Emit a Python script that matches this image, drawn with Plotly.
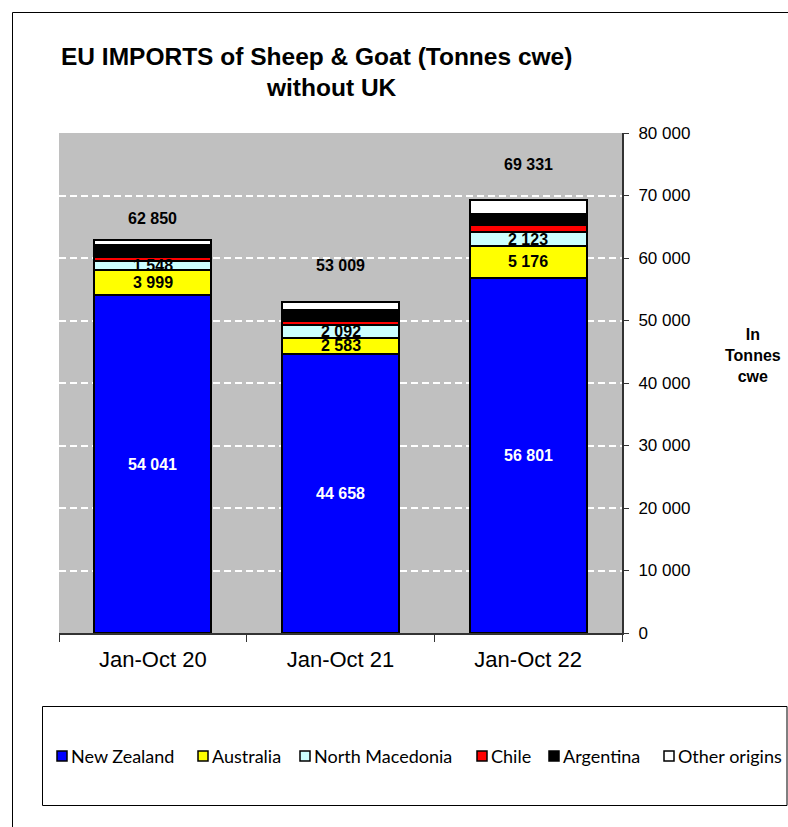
import plotly.graph_objects as go

periods = ["Jan-Oct 20", "Jan-Oct 21", "Jan-Oct 22"]
series_names = ["New Zealand", "Australia", "North Macedonia", "Chile", "Argentina", "Other origins"]
new_zealand = [54041, 44658, 56801]
australia = [3999, 2583, 5176]
north_macedonia = [1548, 2092, 2123]
chile = [600, 526, 1150]
argentina = [1900, 1800, 1830]
other_origins = [762, 1350, 2251]
totals = [62850, 53009, 69331]
total_label_offset = [3550, 5870, 5550]
labelled_series = {"New Zealand": "white", "Australia": "black", "North Macedonia": "black"}

colors = ["#0000FF", "#FFFF00", "#CCFFFF", "#FF0000", "#000000", "#FFFFFF"]
values = [new_zealand, australia, north_macedonia, chile, argentina, other_origins]

FW, FH = 788, 827


def fx(px):
    return px / FW


def fy(py):
    return 1 - py / FH


FONT = "Liberation Sans, Arial, sans-serif"
LEGEND_FONT = "Lato, Open Sans, sans-serif"


def fmt(v):
    return f"{v:,}".replace(",", " ")


fig = go.Figure()
for name, vals, col in zip(series_names, values, colors):
    fig.add_trace(go.Bar(
        x=periods, y=vals, name=name,
        marker=dict(color=col, line=dict(color="black", width=2)),
        hoverinfo="skip", showlegend=False,
    ))

annotations = []
cum = [0, 0, 0]
for name, vals in zip(series_names, values):
    for i, v in enumerate(vals):
        if name in labelled_series:
            annotations.append(dict(
                x=periods[i], y=cum[i] + v / 2, xref="x", yref="y",
                text=f"<b>{fmt(v)}</b>", showarrow=False,
                font=dict(family=FONT, size=16, color=labelled_series[name]),
            ))
        cum[i] += v

for i, t in enumerate(totals):
    annotations.append(dict(
        x=periods[i], y=t + total_label_offset[i], xref="x", yref="y",
        text=f"<b>{fmt(t)}</b>", showarrow=False,
        font=dict(family=FONT, size=16, color="black"),
    ))

# title (two lines)
annotations.append(dict(
    x=fx(316), y=fy(57), xref="paper", yref="paper", xanchor="center", yanchor="middle",
    text="<b>EU IMPORTS of Sheep & Goat (Tonnes cwe)</b>", showarrow=False,
    font=dict(family=FONT, size=24.5, color="black"),
))
annotations.append(dict(
    x=fx(331), y=fy(88), xref="paper", yref="paper", xanchor="center", yanchor="middle",
    text="<b>without UK</b>", showarrow=False,
    font=dict(family=FONT, size=24.5, color="black"),
))
annotations.append(dict(
    x=fx(753), y=fy(355), xref="paper", yref="paper", xanchor="center", yanchor="middle",
    text="<b>In<br>Tonnes<br>cwe</b>", showarrow=False, align="center",
    font=dict(family=FONT, size=16, color="black"),
))

shapes = [
    dict(type="rect", xref="paper", yref="paper",
         x0=fx(12.5), x1=fx(830), y0=fy(870), y1=fy(12.5),
         line=dict(color="black", width=1), fillcolor="rgba(0,0,0,0)", layer="below"),
    dict(type="rect", xref="paper", yref="paper",
         x0=fx(42.5), x1=fx(787), y0=fy(805.5), y1=fy(706.5),
         line=dict(color="black", width=1), fillcolor="rgba(0,0,0,0)"),
]

# manual legend: square + label for each series
legend_square_px = [57, 198, 300, 477, 549, 664]
for name, col, sx in zip(series_names, colors, legend_square_px):
    shapes.append(dict(type="rect", xref="paper", yref="paper",
                       x0=fx(sx), x1=fx(sx + 10), y0=fy(761), y1=fy(751),
                       line=dict(color="black", width=1.5), fillcolor=col))
    annotations.append(dict(
        x=fx(sx + 12), y=fy(756), xref="paper", yref="paper", xanchor="left", yanchor="middle",
        text=name, showarrow=False,
        font=dict(family=LEGEND_FONT, size=18, color="black"),
    ))

fig.update_layout(
    width=FW, height=FH,
    margin=dict(l=0, r=0, t=0, b=0, autoexpand=False),
    paper_bgcolor="white", plot_bgcolor="#C0C0C0",
    barmode="stack", bargap=0.377,
    separators=". ",
    showlegend=False,
    xaxis=dict(domain=[fx(59), fx(622)], tickson="boundaries", ticks="outside", ticklen=7,
               tickcolor="#333", showline=True, linecolor="#333", linewidth=1.5,
               ticklabelstandoff=6,
               tickfont=dict(family=FONT, size=22, color="black"), showgrid=False),
    yaxis=dict(domain=[fy(633), fy(133)], side="right", range=[0, 80000], dtick=10000,
               tickformat=",d", ticks="outside", ticklen=5, tickcolor="#333",
               showline=True, linecolor="#333", linewidth=2,
               showgrid=True, gridcolor="white", griddash="7px,4px", gridwidth=2,
               zeroline=False, ticklabelstandoff=6,
               tickfont=dict(family=FONT, size=17, color="black")),
    annotations=annotations, shapes=shapes,
)

fig.write_html(
    "out.html",
    config={"displayModeBar": False},
    post_script="document.body.style.margin='0px';document.body.style.overflow='hidden';",
)
